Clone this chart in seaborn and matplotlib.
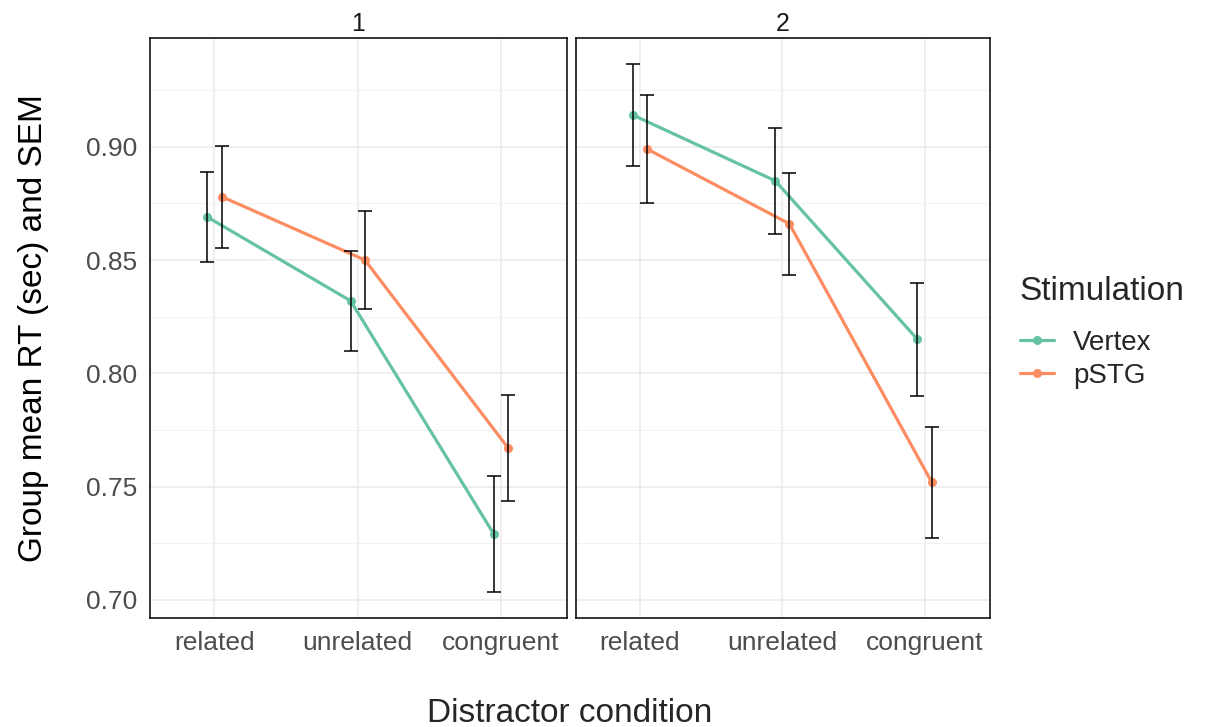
import numpy as np
import pandas as pd
import matplotlib
matplotlib.use('Agg')
import matplotlib.pyplot as plt
import seaborn as sns
from matplotlib.ticker import MultipleLocator

conditions = ['related', 'unrelated', 'congruent']
stimulation = ['Vertex', 'pSTG']
panels = [1, 2]

# panel 1 means and SEM
p1_vertex = [0.869, 0.832, 0.729]
p1_vertex_sem = [0.020, 0.022, 0.0255]
p1_pstg = [0.878, 0.850, 0.767]
p1_pstg_sem = [0.0225, 0.0215, 0.0235]

# panel 2 means and SEM
p2_vertex = [0.914, 0.885, 0.815]
p2_vertex_sem = [0.0225, 0.0235, 0.025]
p2_pstg = [0.899, 0.866, 0.752]
p2_pstg_sem = [0.024, 0.0225, 0.0245]

rows = []
for panel, vals in zip(panels, [[p1_vertex, p1_vertex_sem, p1_pstg, p1_pstg_sem],
                                [p2_vertex, p2_vertex_sem, p2_pstg, p2_pstg_sem]]):
    for s, (m, e) in zip(stimulation, [(vals[0], vals[1]), (vals[2], vals[3])]):
        for i, c in enumerate(conditions):
            rows.append({'panel': panel, 'stim': s, 'cond': c, 'idx': i, 'rt': m[i], 'sem': e[i]})
df = pd.DataFrame(rows)
offsets = {'Vertex': -0.05, 'pSTG': 0.05}
df['x'] = df['idx'] + df['stim'].map(offsets)

sns.set_theme(style='white')
plt.rcParams['font.family'] = ['Liberation Sans', 'DejaVu Sans']

palette = {'Vertex': '#66C2A5', 'pSTG': '#FC8D62'}

fig = plt.figure(figsize=(12.06, 7.27), dpi=100)
ax1 = fig.add_axes([0.1244, 0.1499, 0.3457, 0.7978])
ax2 = fig.add_axes([0.4776, 0.1499, 0.3433, 0.7978])

for ax, panel in zip([ax1, ax2], panels):
    d = df[df['panel'] == panel]
    sns.lineplot(data=d, x='x', y='rt', hue='stim', palette=palette, hue_order=stimulation,
                 linewidth=2.3, marker='o', markersize=6.5, markeredgewidth=0, ax=ax,
                 legend=(panel == 1), zorder=3)
    ax.errorbar(d['x'], d['rt'], yerr=d['sem'], fmt='none', ecolor='black',
                elinewidth=1.1, capsize=5, capthick=1.1, zorder=4)
    ax.set_xlim(-0.45, 2.46)
    ax.set_ylim(0.692, 0.948)
    ax.set_xticks(range(len(conditions)))
    ax.set_xticklabels(conditions)
    ax.yaxis.set_major_locator(MultipleLocator(0.05))
    ax.yaxis.set_minor_locator(MultipleLocator(0.025))
    ax.grid(which='major', color='#EBEBEB', linewidth=1.1)
    ax.grid(which='minor', axis='y', color='#F2F2F2', linewidth=0.7)
    ax.set_axisbelow(True)
    for sp in ax.spines.values():
        sp.set_color('black')
        sp.set_linewidth(1.1)
    ax.tick_params(axis='both', which='major', length=0, labelsize=19,
                   labelcolor='#4D4D4D', pad=9)
    ax.tick_params(axis='y', which='minor', length=0)
    ax.set_xlabel('')
    ax.set_ylabel('')
    ax.set_title(str(panel), fontsize=18, color='#1A1A1A', pad=5)

ax1.yaxis.set_major_formatter(matplotlib.ticker.FormatStrFormatter('%.2f'))
ax2.tick_params(axis='y', which='major', labelleft=False)
ax1.set_ylabel('Group mean RT (sec) and SEM', fontsize=24, color='black', labelpad=27)

fig.text(0.4726, 0.018, 'Distractor condition', ha='center', va='center', fontsize=24)

handles, labels = ax1.get_legend_handles_labels()
ax1.get_legend().remove()
fig.text(0.8455, 1 - 292 / 727, 'Stimulation', ha='left', va='center', fontsize=24)
leg = fig.legend(handles, labels, loc='upper left',
                 bbox_to_anchor=(0.846, 0.546), frameon=False, fontsize=20,
                 handlelength=1.2, handletextpad=0.7, labelspacing=0.25,
                 borderpad=0, borderaxespad=0)

plt.savefig('out.png', dpi=100)
plt.close()
